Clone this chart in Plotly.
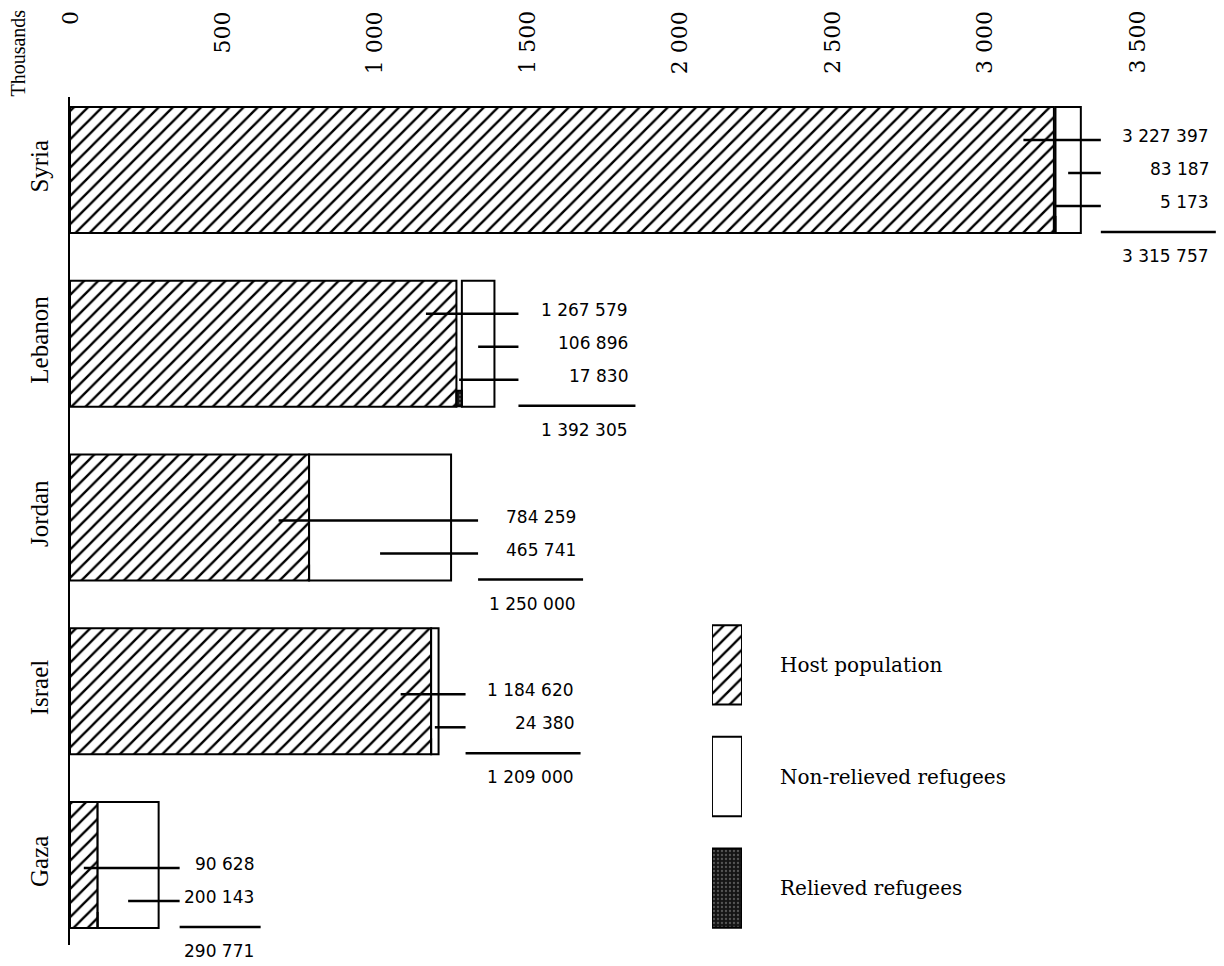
import plotly.graph_objects as go

# ---------------- data (thousands) ----------------
countries = ["Syria", "Lebanon", "Jordan", "Israel", "Gaza"]
host = [3227.397, 1267.579, 784.259, 1184.620, 90.628]
non_relieved = [83.187, 106.896, 465.741, 24.380, 200.143]
relieved = [5.173, 17.830, 0.0, 0.0, 0.0]
host_txt = ["3 227 397", "1 267 579", "784 259", "1 184 620", "90 628"]
nonrel_txt = ["83 187", "106 896", "465 741", "24 380", "200 143"]
rel_txt = ["5 173", "17 830", "", "", ""]
total_txt = ["3 315 757", "1 392 305", "1 250 000", "1 209 000", "290 771"]
tick_vals = [0, 500, 1000, 1500, 2000, 2500, 3000, 3500]
tick_txt = ["0", "500", "1 000", "1 500", "2 000", "2 500", "3 000", "3 500"]
legend_names = ["Host population", "Non-relieved refugees", "Relieved refugees"]

# ---------------- layout constants ----------------
# page has an 8px body margin, so the figure is 8px smaller on each axis
W, H = 1216, 958
ML, MR, MT, MB = 62, 0, 89, 21
PXK = 1067 / 3500.0                      # pixels per thousand
XMAX = (W - ML - MR) / PXK
LABEL_SHIFT = [130, 136, 127, 137, 97]    # px right of the bar end for the label column
LINE_GAP = [110, 112, 100, 110, 76]       # px between label right edge and leader end
BAR_W = 0.725

SERIF = "DejaVu Serif"
NUMFONT = dict(family="DejaVu Sans", size=17, color="black")

fig = go.Figure()

hatch = dict(shape="/", fgcolor="black", bgcolor="white", size=10, solidity=0.24, fgopacity=1)
speckle = dict(shape=".", fgcolor="#9a9a9a", bgcolor="#151515", size=4, solidity=0.25)

base_rel = host
base_non = [h + r for h, r in zip(host, relieved)]

fig.add_trace(go.Bar(y=countries, x=host, base=[0] * len(host), orientation="h",
                     width=BAR_W, name=legend_names[0],
                     marker=dict(color="white", pattern=hatch, line=dict(color="black", width=2)),
                     showlegend=False, hoverinfo="x+y"))
fig.add_trace(go.Bar(y=countries, x=non_relieved, base=base_non, orientation="h",
                     width=BAR_W, name=legend_names[1],
                     marker=dict(color="white", line=dict(color="black", width=2)),
                     showlegend=False, hoverinfo="x+y"))
fig.add_trace(go.Bar(y=countries, x=relieved, base=base_rel, orientation="h",
                     width=0.09, offset=0.27, name=legend_names[2],
                     marker=dict(color="#151515", pattern=speckle, line=dict(color="black", width=2)),
                     showlegend=False, hoverinfo="x+y"))

annotations = []
shapes = []

for i, c in enumerate(countries):
    total = host[i] + non_relieved[i] + relieved[i]
    items = []  # (text, leader start in data)
    items.append((host_txt[i], max(host[i] / 2, host[i] - 100)))
    items.append((nonrel_txt[i], base_non[i] + non_relieved[i] / 2))
    if relieved[i] > 0:
        items.append((rel_txt[i], host[i] + relieved[i] / 2))
    n = len(items)
    ls = LABEL_SHIFT[i]
    lend = ls - LINE_GAP[i]
    for k, (txt, start) in enumerate(items):
        dy = 32 - 33 * (n - 1 - k)
        annotations.append(dict(x=total, y=c, xref="x", yref="y", text=txt, showarrow=False,
                                xanchor="right", yanchor="middle", xshift=ls, yshift=-dy,
                                font=NUMFONT))
        shapes.append(dict(type="line", xref="x", yref="y", xsizemode="pixel", ysizemode="pixel",
                           xanchor=total, yanchor=i,
                           x0=(start - total) * PXK, x1=lend, y0=-(dy + 4), y1=-(dy + 4),
                           line=dict(color="black", width=2.5)))
    # underline and total
    shapes.append(dict(type="line", xref="x", yref="y", xsizemode="pixel", ysizemode="pixel",
                       xanchor=total, yanchor=i, x0=lend, x1=ls + 5, y0=-62, y1=-62,
                       line=dict(color="black", width=2.5)))
    annotations.append(dict(x=total, y=c, xref="x", yref="y", text=total_txt[i], showarrow=False,
                            xanchor="right", yanchor="middle", xshift=ls, yshift=-86,
                            font=NUMFONT))

# top axis tick labels (rotated, top aligned)
for v, t in zip(tick_vals, tick_txt):
    annotations.append(dict(x=v, y=1, xref="x", yref="paper", text=t, showarrow=False,
                            textangle=-90, xanchor="center", yanchor="top", yshift=88,
                            font=dict(family=SERIF, size=22, color="black")))

annotations.append(dict(x=-0.0459, y=1, xref="paper", yref="paper", text="Thousands",
                        showarrow=False, textangle=-90, xanchor="center", yanchor="top",
                        yshift=89, font=dict(family="Liberation Serif", size=20, color="black")))

# ---------------- legend swatches on their own small axes ----------------
leg_styles = [
    dict(color="white", pattern=hatch, line=dict(color="black", width=2)),
    dict(color="white", line=dict(color="black", width=2)),
    dict(color="#151515", pattern=speckle, line=dict(color="black", width=2)),
]
for name, mk in zip(legend_names, leg_styles):
    fig.add_trace(go.Bar(y=[name], x=[1], orientation="h", width=0.71, marker=mk,
                         xaxis="x2", yaxis="y2", showlegend=False, hoverinfo="skip"))
    annotations.append(dict(x=0.6135, y=name, xref="paper", yref="y2", text=name,
                            showarrow=False, xanchor="left", yanchor="middle",
                            font=dict(family=SERIF, size=20, color="black")))

fig.update_layout(
    width=W, height=H,
    margin=dict(l=ML, r=MR, t=MT, b=MB, autoexpand=False),
    paper_bgcolor="white", plot_bgcolor="white",
    barmode="overlay",
    showlegend=False,
    xaxis=dict(range=[0, XMAX], showticklabels=False, showgrid=False, zeroline=False,
               showline=False, ticks="", automargin=False),
    yaxis=dict(type="category", categoryorder="array", categoryarray=countries,
               range=[4.46, -0.42], showgrid=False, zeroline=False, automargin=False,
               showline=True, linecolor="black", linewidth=2, ticks="",
               tickangle=-90, ticklabelstandoff=10,
               tickfont=dict(family="Liberation Serif", size=25, color="black")),
    xaxis2=dict(domain=[0.5563, 0.5823], range=[0, 1], anchor="y2", visible=False,
                fixedrange=True),
    yaxis2=dict(domain=[0.0012, 0.3962], anchor="x2", type="category",
                categoryorder="array", categoryarray=legend_names,
                range=[2.5, -0.5], visible=False, fixedrange=True),
    annotations=annotations,
    shapes=shapes,
    font=dict(family=SERIF, color="black"),
)

fig.write_html("out.html")
